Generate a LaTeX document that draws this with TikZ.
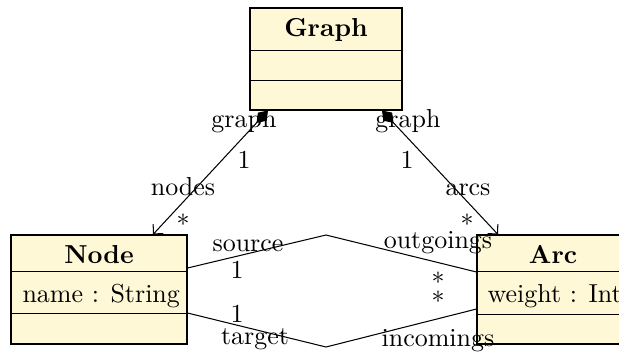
\documentclass[tikz,border=0pt]{standalone}
\usetikzlibrary{arrows.meta,calc}
\definecolor{umlfill}{RGB}{255,248,214}
\tikzset{
  classbox/.style={draw=black, fill=umlfill, inner sep=0pt, line width=0.4pt},
  sep/.style={draw=black, line width=0.4pt},
  lbl/.style={anchor=base, inner sep=0pt},
  attr/.style={anchor=base west, inner sep=0pt},
  compo/.style={draw=black, {Diamond[length=6.5pt,width=4.6pt]}-{Straight Barb[length=2.7pt,width=5.4pt]}},
  assoc/.style={draw=black},
}
\begin{document}
\begin{tikzpicture}[x=0.385pt,y=-0.385pt]
\useasboundingbox (0,0) rectangle (619,351);
% class boxes
\node[classbox, minimum width=58.52pt, minimum height=39.27pt] (graph) at (326,59) {};
\node[classbox, minimum width=67.76pt, minimum height=41.97pt] (node) at (99,289.5) {};
\node[classbox, minimum width=58.52pt, minimum height=41.97pt] (arc) at (553,289.5) {};
% separators
\draw[sep] ($(graph.north west)+(0,43)$) -- ($(graph.north east)+(0,43)$);
\draw[sep] ($(graph.north west)+(0,73)$) -- ($(graph.north east)+(0,73)$);
\draw[sep] ($(node.north west)+(0,37)$) -- ($(node.north east)+(0,37)$);
\draw[sep] ($(node.north west)+(0,79)$) -- ($(node.north east)+(0,79)$);
\draw[sep] ($(arc.north west)+(0,37)$) -- ($(arc.north east)+(0,37)$);
\draw[sep] ($(arc.north west)+(0,80)$) -- ($(arc.north east)+(0,80)$);
% titles and attributes
\node[lbl] (graphTitle) at (326,36) {\textbf{Graph}};
\node[lbl] (nodeTitle) at (99,263) {\textbf{Node}};
\node[lbl] (arcTitle) at (553,263) {\textbf{Arc}};
\node[attr] (nodeAttr) at (22,302) {name : String};
\node[attr] (arcAttr) at (487,302) {weight : Integer};
% connector end points
\coordinate (gL) at ($(graph.south)+(-58,0)$);
\coordinate (gR) at ($(graph.south)+(56,0)$);
\coordinate (nN) at ($(node.north)+(54,0)$);
\coordinate (aN) at ($(arc.north)+(-55,0)$);
\coordinate (nS) at ($(node.east)+(0,-21.5)$);
\coordinate (nT) at ($(node.east)+(0,23.5)$);
\coordinate (aS) at ($(arc.west)+(0,-17.5)$);
\coordinate (aT) at ($(arc.west)+(0,19.5)$);
\coordinate (mTop) at (326,235);
\coordinate (mBot) at (326,347);
% compositions
\draw[compo] (gL) -- (nN);
\draw[compo] (gR) -- (aN);
% associations
\draw[assoc] (nS) -- (mTop) -- (aS);
\draw[assoc] (nT) -- (mBot) -- (aT);
% labels
\node[lbl] (lgL) at (244,127) {graph};
\node[lbl] (l1L) at (244,168) {1};
\node[lbl] (lnodes) at (183,195) {nodes};
\node[lbl] (lsL) at (183,233) {*};
\node[lbl] (lgR) at (408,127) {graph};
\node[lbl] (l1R) at (407,168) {1};
\node[lbl] (larcs) at (468,195) {arcs};
\node[lbl] (lsR) at (467,233) {*};
\node[lbl] (lsource) at (248,251) {source};
\node[lbl] (l1s) at (237,278) {1};
\node[lbl] (l1t) at (237,322) {1};
\node[lbl] (ltarget) at (255,344) {target};
\node[lbl] (lout) at (438,248) {outgoings};
\node[lbl] (lso) at (438,291) {*};
\node[lbl] (lsi) at (438,310) {*};
\node[lbl] (linc) at (438,346) {incomings};
\end{tikzpicture}
\end{document}
